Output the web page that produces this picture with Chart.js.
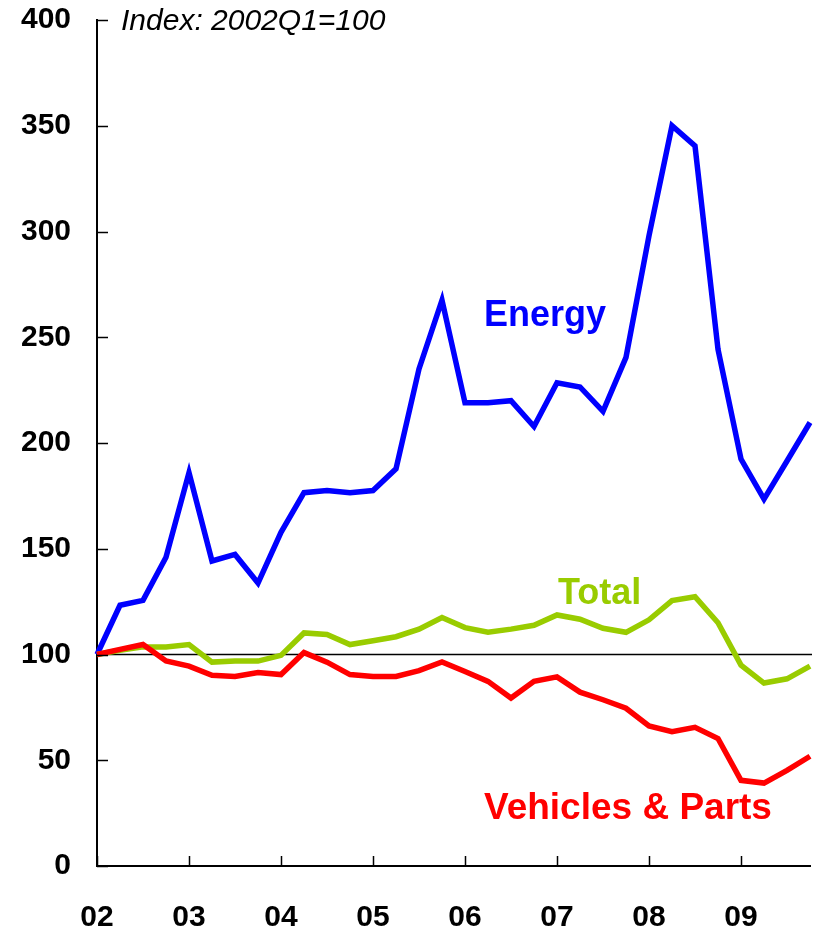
<!DOCTYPE html>
<html>
<head>
<meta charset="utf-8">
<script src="https://cdn.jsdelivr.net/npm/chart.js@4/dist/chart.umd.min.js"></script>
<style>
  html, body { margin: 0; padding: 0; background: #fff; }
  #wrap { width: 818px; height: 933px; }
</style>
</head>
<body>
<div id="wrap"><canvas id="importChart"></canvas></div>
<script>
// quarters 2002Q1 .. 2009Q4
const quarters = [];
for (let y = 2; y <= 9; y++) {
    for (let q = 1; q <= 4; q++) quarters.push('0' + y + 'Q' + q);
}
const yearLabels = ['02', '03', '04', '05', '06', '07', '08', '09'];

const energy = [100, 123.3, 125.6, 146, 186, 144.2, 147.3, 133.8,
    157.8, 176.5, 177.5, 176.5, 177.5, 187.8, 235, 267.5,
    219, 219, 220, 207.8, 228.5, 226.5, 215, 240.5,
    298, 350, 340.5, 244.3, 192.4, 173.5, 191.5, 209.7];
const total = [100, 102, 103.6, 103.6, 104.7, 96.4, 96.9, 96.9,
    99.6, 110.2, 109.5, 104.7, 106.5, 108.4, 112, 117.5,
    112.7, 110.5, 112, 113.8, 118.7, 116.7, 112.4, 110.5,
    116.4, 125.5, 127.3, 115, 95, 86.5, 88.5, 94.5];
const vehicles = [100, 102.4, 104.7, 96.9, 94.5, 90.2, 89.6, 91.5,
    90.5, 100.9, 96.4, 90.5, 89.6, 89.6, 92.4, 96.5,
    92, 87.3, 79.4, 87.3, 89.4, 82.2, 78.6, 74.6,
    66.2, 63.5, 65.6, 60.3, 40.5, 39.2, 45.2, 51.9];

const baseLevel = 100;
const tickFont = { family: "'Liberation Sans', Arial, sans-serif", size: 30, weight: 'bold' };

// text labels, inward tick marks and the 100 reference line
const decorations = {
    id: 'decorations',
    beforeDatasetsDraw(chart) {
        const ctx = chart.ctx;
        const x = chart.scales.x, y = chart.scales.y;
        const py = y.getPixelForValue(baseLevel);
        ctx.save();
        ctx.strokeStyle = '#000';
        ctx.lineWidth = 1.5;
        ctx.beginPath();
        ctx.moveTo(x.left, py);
        ctx.lineTo(x.right + 2, py);
        ctx.stroke();
        ctx.restore();
    },
    afterDraw(chart) {
        const ctx = chart.ctx;
        const x = chart.scales.x, y = chart.scales.y;
        ctx.save();
        ctx.strokeStyle = '#000';
        ctx.lineWidth = 1.5;
        ctx.beginPath();
        y.ticks.forEach(t => {
            const p = Math.round(y.getPixelForValue(t.value)) + 0.5;
            ctx.moveTo(x.left, p);
            ctx.lineTo(x.left + 11, p);
        });
        yearLabels.forEach((lab, i) => {
            const p = Math.round(x.getPixelForValue(i * 4)) + 0.5;
            ctx.moveTo(p, y.bottom);
            ctx.lineTo(p, y.bottom - 10);
        });
        ctx.stroke();

        ctx.textBaseline = 'alphabetic';
        ctx.textAlign = 'left';
        ctx.fillStyle = '#000';
        ctx.font = "italic 30px 'Liberation Sans', Arial, sans-serif";
        ctx.fillText('Index: 2002Q1=100', 121, 30);

        ctx.font = "bold 36px 'Liberation Sans', Arial, sans-serif";
        ctx.fillStyle = '#0000ff';
        ctx.fillText('Energy', 484, 326);
        ctx.fillStyle = '#99cc00';
        ctx.fillText('Total', 558, 604);
        ctx.font = "bold 37px 'Liberation Sans', Arial, sans-serif";
        ctx.fillStyle = '#ff0000';
        ctx.fillText('Vehicles & Parts', 484, 819);
        ctx.restore();
    }
};

const ctx = document.getElementById('importChart').getContext('2d');
const importChart = new Chart(ctx, {
    type: 'line',
    data: {
        labels: quarters,
        datasets: [{
            label: 'Vehicles & Parts',
            data: vehicles,
            borderColor: '#ff0000',
            borderWidth: 5.5,
            pointRadius: 0,
            tension: 0
        }, {
            label: 'Total',
            data: total,
            borderColor: '#99cc00',
            borderWidth: 5.5,
            pointRadius: 0,
            tension: 0
        }, {
            label: 'Energy',
            data: energy,
            borderColor: '#0000ff',
            borderWidth: 5.5,
            pointRadius: 0,
            tension: 0
        }]
    },
    plugins: [decorations],
    options: {
        responsive: true,
        maintainAspectRatio: false,
        animation: false,
        layout: {
            padding: { top: 20, right: 8, left: 0, bottom: 0 }
        },
        plugins: {
            legend: { display: false },
            tooltip: { enabled: false }
        },
        scales: {
            x: {
                offset: false,
                grid: { display: false, drawTicks: false },
                border: { display: true, color: '#000', width: 2 },
                ticks: {
                    autoSkip: false,
                    maxRotation: 0,
                    padding: 34,
                    color: '#000',
                    font: tickFont,
                    callback: (val, idx) => idx % 4 === 0 ? yearLabels[idx / 4] : ''
                },
                afterFit: s => {
                    s.height = 67;
                    s.paddingLeft = 0;
                    s.paddingRight = 0;
                }
            },
            y: {
                min: 0,
                max: 400,
                grid: { display: false, drawTicks: false },
                border: { display: true, color: '#000', width: 2 },
                ticks: {
                    stepSize: 50,
                    padding: 26,
                    color: '#000',
                    font: tickFont
                },
                afterFit: s => {
                    s.width = 97;
                    s.paddingTop = 0;
                    s.paddingBottom = 0;
                }
            }
        }
    }
});
</script>
</body>
</html>
